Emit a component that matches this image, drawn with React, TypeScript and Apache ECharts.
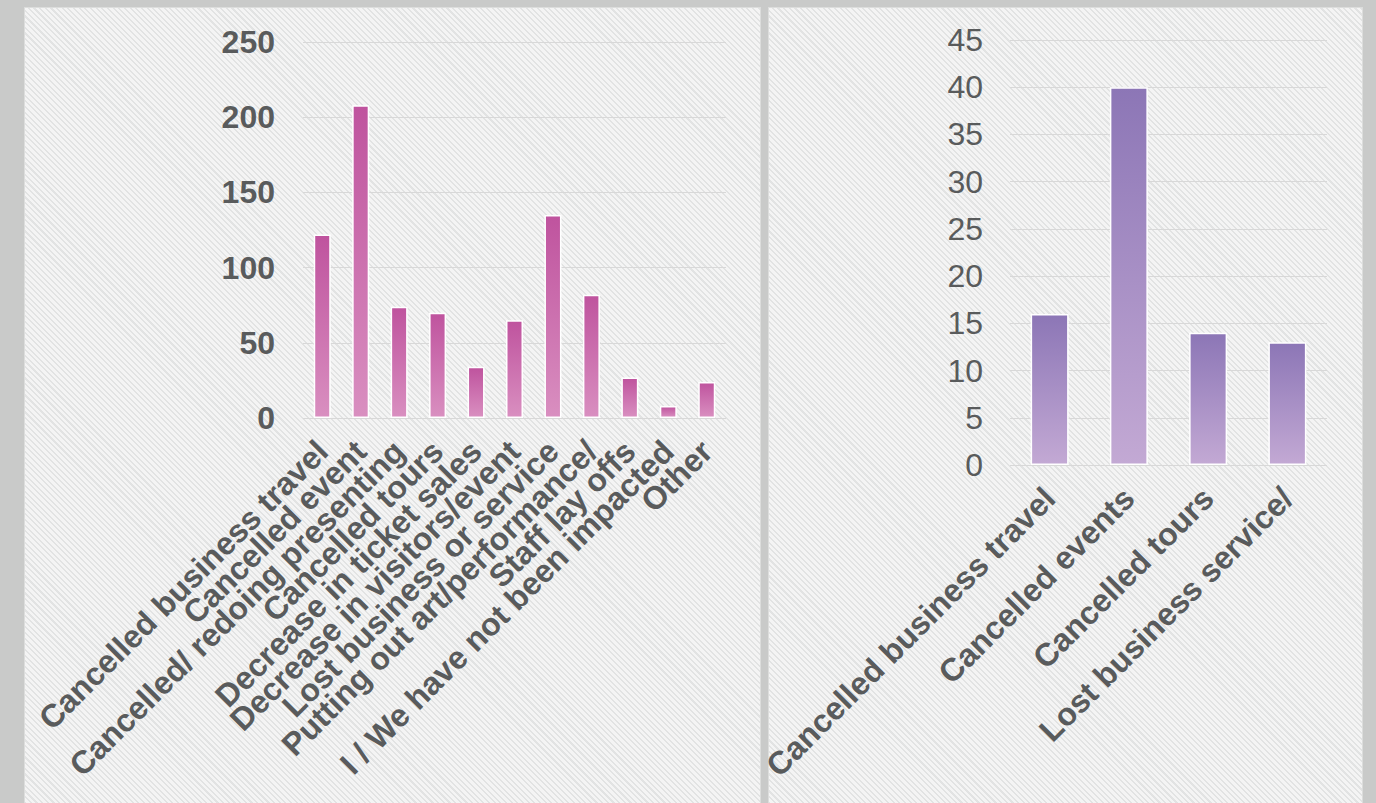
import React, { useEffect, useRef } from "react";
import * as echarts from "echarts";

const leftCategories = [
  "Cancelled business travel",
  "Cancelled event",
  "Cancelled/ redoing presenting",
  "Cancelled tours",
  "Decrease in ticket sales",
  "Decrease in visitors/event",
  "Lost business or service",
  "Putting out art/performance/",
  "Staff lay offs",
  "I / We have not been impacted",
  "Other",
];
const leftValues = [122, 208, 74, 70, 34, 65, 135, 82, 27, 8, 24];

const rightCategories = [
  "Cancelled business travel",
  "Cancelled events",
  "Cancelled tours",
  "Lost business service/",
];
const rightValues = [16, 40, 14, 13];

const FONT = "'Liberation Sans', Arial, sans-serif";
const TEXT = "#595b5c";

const panelStyle = (left: number, width: number): React.CSSProperties => ({
  position: "absolute",
  left,
  top: 7,
  width,
  height: 803,
  boxSizing: "border-box",
  border: "1px solid #dcdddc",
  background:
    "repeating-linear-gradient(45deg, #e2e3e3 0px, #e2e3e3 1.5px, #f4f4f4 1.5px, #f4f4f4 4px)",
});

export default function App() {
  const ref = useRef<HTMLDivElement>(null);

  useEffect(() => {
    if (!ref.current) return;
    const chart = echarts.init(ref.current, undefined, { renderer: "svg" });
    const pink = {
      type: "linear",
      x: 0,
      y: 0,
      x2: 0,
      y2: 1,
      colorStops: [
        { offset: 0, color: "#bf539e" },
        { offset: 1, color: "#d98fc0" },
      ],
    };
    const purple = {
      type: "linear",
      x: 0,
      y: 0,
      x2: 0,
      y2: 1,
      colorStops: [
        { offset: 0, color: "#8c76b6" },
        { offset: 1, color: "#c3a9d4" },
      ],
    };
    const xLabel = {
      interval: 0,
      rotate: 45,
      margin: 28,
      color: TEXT,
      fontSize: 32,
      fontWeight: "bold",
      fontFamily: FONT,
    };
    chart.setOption({
      animation: false,
      backgroundColor: "transparent",
      grid: [
        { left: 303, right: 1376 - 726, top: 42, bottom: 803 - 418 },
        { left: 1010, right: 1376 - 1327, top: 40, bottom: 803 - 465 },
      ],
      xAxis: [
        {
          type: "category",
          gridIndex: 0,
          data: leftCategories,
          axisLine: { show: false },
          axisTick: { show: false },
          axisLabel: xLabel,
        },
        {
          type: "category",
          gridIndex: 1,
          data: rightCategories,
          axisLine: { show: false },
          axisTick: { show: false },
          axisLabel: xLabel,
        },
      ],
      yAxis: [
        {
          type: "value",
          gridIndex: 0,
          min: 0,
          max: 250,
          interval: 50,
          axisLine: { show: false },
          axisTick: { show: false },
          splitLine: { lineStyle: { color: "#d8d8d8", width: 1 } },
          axisLabel: {
            margin: 28,
            color: TEXT,
            fontSize: 32,
            fontWeight: "bold",
            fontFamily: FONT,
          },
        },
        {
          type: "value",
          gridIndex: 1,
          min: 0,
          max: 45,
          interval: 5,
          axisLine: { show: false },
          axisTick: { show: false },
          splitLine: { lineStyle: { color: "#d8d8d8", width: 1 } },
          axisLabel: {
            margin: 27,
            color: TEXT,
            fontSize: 32,
            fontFamily: FONT,
          },
        },
      ],
      series: [
        {
          type: "bar",
          xAxisIndex: 0,
          yAxisIndex: 0,
          data: leftValues,
          barWidth: 17,
          itemStyle: { color: pink, borderColor: "#ffffff", borderWidth: 1.5 },
        },
        {
          type: "bar",
          xAxisIndex: 1,
          yAxisIndex: 1,
          data: rightValues,
          barWidth: 38,
          itemStyle: { color: purple, borderColor: "#ffffff", borderWidth: 1.5 },
        },
      ],
    });
    return () => chart.dispose();
  }, []);

  return (
    <div
      style={{
        position: "fixed",
        left: 0,
        top: 0,
        width: 1376,
        height: 803,
        overflow: "hidden",
        background: "#c9cac9",
      }}
    >
      <div style={panelStyle(24, 737)} />
      <div style={panelStyle(768, 595)} />
      <div
        ref={ref}
        style={{ position: "absolute", left: 0, top: 0, width: 1376, height: 803 }}
      />
    </div>
  );
}
